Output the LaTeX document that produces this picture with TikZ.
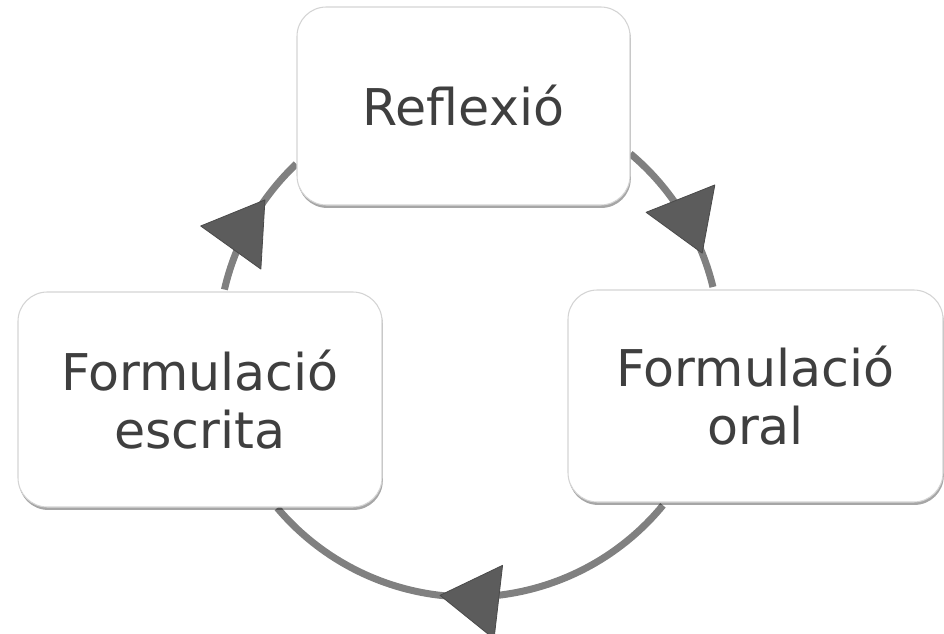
\documentclass[tikz,border=0pt]{standalone}
\usepackage{fontspec}
\setmainfont{DejaVu Sans}
\usetikzlibrary{shadows,backgrounds,decorations.markings}
\definecolor{linegray}{HTML}{808080}
\definecolor{tipgray}{HTML}{5C5C5C}
\definecolor{tipedge}{HTML}{4A4A4A}
\definecolor{txtgray}{HTML}{3F3F3F}
\definecolor{boxedge}{HTML}{D4D4D4}
\tikzset{
  cyclebox/.style={rectangle, rounded corners=22pt, fill=white, draw=boxedge, line width=0.8pt,
    text=txtgray, align=center, font=\fontsize{38}{43.5}\selectfont,
    drop shadow={shadow xshift=0.6pt, shadow yshift=-2.2pt, opacity=0.35, fill=black}},
  cyclearc/.style={draw=linegray, line width=5.25pt},
  arrowmark/.style={postaction={decorate}, decoration={markings,
    mark=at position #1 with {\filldraw[fill=tipgray, draw=tipedge, line width=0.6pt, line join=round]
      (0pt,0pt) -- (-44pt,27.75pt) -- (-44pt,-27.75pt) -- cycle;}}}
}
\begin{document}
\begin{tikzpicture}[x=0.75pt,y=0.75pt]
\useasboundingbox (0,0) rectangle (944,633);
\node[cyclebox, minimum width=249.75pt, minimum height=148.5pt] (refl) at (463.5,527) {Reflexió};
\node[cyclebox, minimum width=281.25pt, minimum height=159pt] (oral) at (755.5,237) {Formulació\\oral};
\node[cyclebox, minimum width=273pt, minimum height=161.25pt] (escr) at (200,233.5) {Formulació\\escrita};
\coordinate (c) at (469,287);
\begin{pgfonlayer}{background}
\draw[cyclearc, arrowmark=0.777] (c) ++(50:188.25pt) arc[start angle=50, end angle=13.6, radius=188.25pt];
\draw[cyclearc, arrowmark=0.57] (c) ++(-39.4:188.25pt) arc[start angle=-39.4, end angle=-139.8, radius=188.25pt];
\draw[cyclearc, arrowmark=0.675] (c) ++(167:188.25pt) arc[start angle=167, end angle=133.5, radius=188.25pt];
\end{pgfonlayer}
\end{tikzpicture}
\end{document}
